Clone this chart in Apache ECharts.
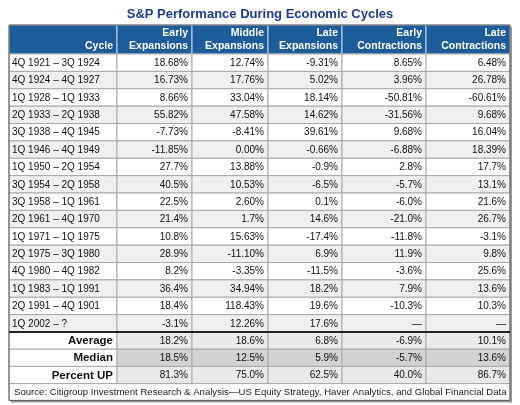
<!DOCTYPE html>
<html><head><meta charset="utf-8">
<script src="https://cdn.jsdelivr.net/npm/echarts@6/dist/echarts.min.js"></script>
<style>html,body{margin:0;padding:0;background:#fff}#c{width:520px;height:405px}</style>
</head><body><div id="c"></div>
<script>
// ---------- data ----------
const chartTitle = 'S&P Performance During Economic Cycles';
const headers = ['Cycle', 'Early\nExpansions', 'Middle\nExpansions', 'Late\nExpansions', 'Early\nContractions', 'Late\nContractions'];
const cycles = [
  '4Q 1921 – 3Q 1924', '4Q 1924 – 4Q 1927', '1Q 1928 – 1Q 1933', '2Q 1933 – 2Q 1938',
  '3Q 1938 – 4Q 1945', '1Q 1946 – 4Q 1949', '1Q 1950 – 2Q 1954', '3Q 1954 – 2Q 1958',
  '3Q 1958 – 1Q 1961', '2Q 1961 – 4Q 1970', '1Q 1971 – 1Q 1975', '2Q 1975 – 3Q 1980',
  '4Q 1980 – 4Q 1982', '1Q 1983 – 1Q 1991', '2Q 1991 – 4Q 1901', '1Q 2002 – ?'
];
const earlyExpansions = ['18.68%', '16.73%', '8.66%', '55.82%', '-7.73%', '-11.85%', '27.7%', '40.5%', '22.5%', '21.4%', '10.8%', '28.9%', '8.2%', '36.4%', '18.4%', '-3.1%'];
const middleExpansions = ['12.74%', '17.76%', '33.04%', '47.58%', '-8.41%', '0.00%', '13.88%', '10.53%', '2.60%', '1.7%', '15.63%', '-11.10%', '-3.35%', '34.94%', '118.43%', '12.26%'];
const lateExpansions = ['-9.31%', '5.02%', '18.14%', '14.62%', '39.61%', '-0.66%', '-0.9%', '-6.5%', '0.1%', '14.6%', '-17.4%', '6.9%', '-11.5%', '18.2%', '19.6%', '17.6%'];
const earlyContractions = ['8.65%', '3.96%', '-50.81%', '-31.56%', '9.68%', '-6.88%', '2.8%', '-5.7%', '-6.0%', '-21.0%', '-11.8%', '11.9%', '-3.6%', '7.9%', '-10.3%', '—'];
const lateContractions = ['6.48%', '26.78%', '-60.61%', '9.68%', '16.04%', '18.39%', '17.7%', '13.1%', '21.6%', '26.7%', '-3.1%', '9.8%', '25.6%', '13.6%', '10.3%', '—'];
const summaryLabels = ['Average', 'Median', 'Percent UP'];
const summaryEarlyExp = ['18.2%', '18.5%', '81.3%'];
const summaryMiddleExp = ['18.6%', '12.5%', '75.0%'];
const summaryLateExp = ['6.8%', '5.9%', '62.5%'];
const summaryEarlyCon = ['-6.9%', '-5.7%', '40.0%'];
const summaryLateCon = ['10.1%', '13.6%', '86.7%'];
const sourceNote = 'Source: Citigroup Investment Research & Analysis—US Equity Strategy, Haver Analytics, and Global Financial Data';

// ---------- layout ----------
const FONT = '"Liberation Sans", Arial, Helvetica, sans-serif';
const colEdges = [0, 108, 183, 259, 333, 417, 501];
const rowHeights = [29];
for (let i = 0; i < cycles.length; i++) rowHeights.push(17.375);
for (let i = 0; i < summaryLabels.length; i++) rowHeights.push(17.2);
rowHeights.push(16.8);
const rowEdges = [0];
rowHeights.forEach(h => rowEdges.push(rowEdges[rowEdges.length - 1] + h));
const totalH = rowEdges[rowEdges.length - 1];
const summaryBg = ['#e9e9e9', '#d2d2d2', '#e9e9e9'];

// ---------- cells ----------
const dataCols = [earlyExpansions, middleExpansions, lateExpansions, earlyContractions, lateContractions];
const sumCols = [summaryEarlyExp, summaryMiddleExp, summaryLateExp, summaryEarlyCon, summaryLateCon];
const cells = [];
headers.forEach((h, c) => cells.push({ value: [c, 0, c + 1], text: h, kind: 'head' }));
cycles.forEach((cy, i) => {
  const r = i + 1;
  const bg = i % 2 === 0 ? '#ffffff' : '#efefef';
  cells.push({ value: [0, r, 1], text: cy, kind: 'cycle', bg });
  dataCols.forEach((arr, k) => cells.push({ value: [k + 1, r, k + 2], text: arr[i], kind: 'num', bg }));
});
summaryLabels.forEach((lab, i) => {
  const r = cycles.length + 1 + i;
  cells.push({ value: [0, r, 1], text: lab, kind: 'sumLabel', bg: '#ffffff' });
  sumCols.forEach((arr, k) => cells.push({ value: [k + 1, r, k + 2], text: arr[i], kind: 'num', bg: summaryBg[i] }));
});
cells.push({ value: [0, rowEdges.length - 2, 6], text: sourceNote, kind: 'source', bg: '#ffffff' });

function cellRect(api, c0, r, c1) {
  const p0 = api.coord([colEdges[c0], rowEdges[r]]);
  const p1 = api.coord([colEdges[c1], rowEdges[r + 1]]);
  return { x: Math.min(p0[0], p1[0]), y: Math.min(p0[1], p1[1]), w: Math.abs(p1[0] - p0[0]), h: Math.abs(p1[1] - p0[1]) };
}

function renderCell(params, api) {
  const cell = cells[params.dataIndex];
  const R = cellRect(api, api.value(0), api.value(1), api.value(2));
  const children = [];
  let textEl;
  if (cell.kind === 'head') {
    children.push({ type: 'rect', shape: { x: R.x, y: R.y, width: R.w, height: R.h },
      style: { fill: '#1d5c9b', stroke: '#c8d6e6', lineWidth: 1 } });
    textEl = { type: 'text', style: { text: cell.text, x: R.x + R.w - 4, y: R.y + R.h - 1, align: 'right', verticalAlign: 'bottom',
      fill: '#ffffff', font: 'bold 10.5px ' + FONT, lineHeight: 13 } };
  } else {
    children.push({ type: 'rect', shape: { x: R.x, y: R.y, width: R.w, height: R.h },
      style: { fill: cell.bg, stroke: '#a8a8a8', lineWidth: 1 } });
    let x, align = 'right', font = '10px ' + FONT, fill = '#111111';
    if (cell.kind === 'cycle') { x = R.x + 3; align = 'left'; }
    else if (cell.kind === 'source') { x = R.x + 5; align = 'left'; font = '9.6px ' + FONT; fill = '#222222'; }
    else if (cell.kind === 'sumLabel') { x = R.x + R.w - 4; font = 'bold 11.5px ' + FONT; }
    else { x = R.x + R.w - 4; }
    textEl = { type: 'text', style: { text: cell.text, x, y: R.y + R.h / 2 + 0.5, align, verticalAlign: 'middle', fill, font } };
  }
  children.push(textEl);
  return { type: 'group', children };
}

function renderFrame(params, api) {
  const T = cellRect(api, 0, 0, 6);
  const B = cellRect(api, 0, rowEdges.length - 2, 6);
  const top = T.y, left = T.x, w = T.w, bottom = B.y + B.h;
  const sep = cellRect(api, 0, cycles.length + 1, 6).y;
  return { type: 'group', children: [
    { type: 'rect', shape: { x: left, y: top, width: w, height: bottom - top }, style: { fill: 'none', stroke: '#5a5a5a', lineWidth: 1 } },
    { type: 'line', shape: { x1: left, y1: sep, x2: left + w, y2: sep }, style: { stroke: '#222222', lineWidth: 2 } }
  ] };
}

function renderShadow(params, api) {
  const T = cellRect(api, 0, 0, 6);
  const B = cellRect(api, 0, rowEdges.length - 2, 6);
  return { type: 'rect', shape: { x: T.x + 2, y: T.y + 2, width: T.w, height: B.y + B.h - T.y }, style: { fill: '#9a9a9a' } };
}

const chart = echarts.init(document.getElementById('c'));
chart.setOption({
  animation: false,
  backgroundColor: '#ffffff',
  title: { text: chartTitle, left: 'center', top: 3, textStyle: { fontFamily: FONT, fontSize: 13, fontWeight: 'bold', color: '#1c3d8a' } },
  grid: { left: 9, top: 25, width: 501, height: totalH },
  xAxis: { type: 'value', min: 0, max: 501, show: false },
  yAxis: { type: 'value', min: 0, max: totalH, inverse: true, show: false },
  series: [
    { type: 'custom', z: 1, renderItem: renderShadow, data: [[0, 0]], silent: true },
    { type: 'custom', z: 2, renderItem: renderCell, data: cells, silent: true },
    { type: 'custom', z: 3, renderItem: renderFrame, data: [[0, 0]], silent: true }
  ]
});
</script></body></html>
